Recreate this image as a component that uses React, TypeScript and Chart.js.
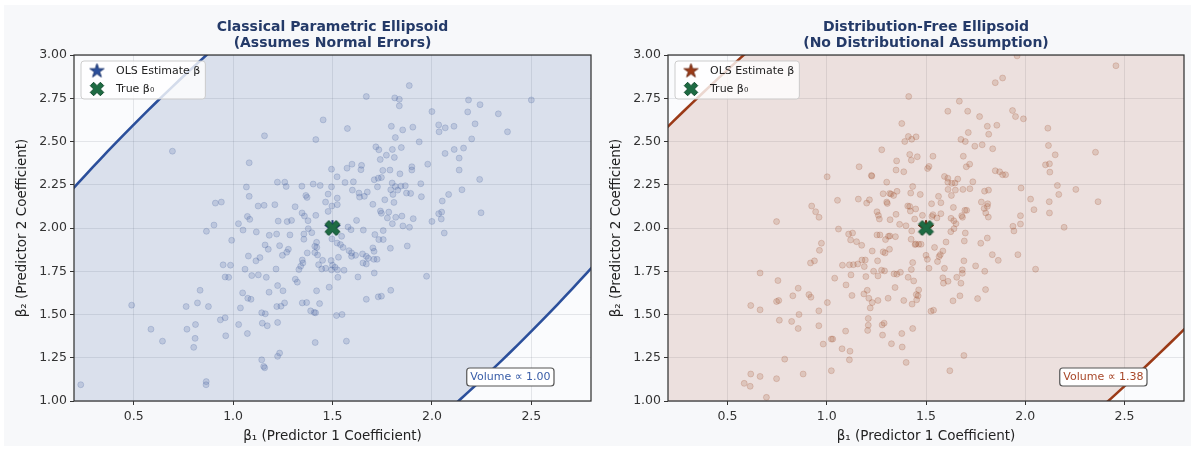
import React, { useEffect, useRef } from 'react';
import { Chart, registerables } from 'chart.js';

Chart.register(...registerables);

const FONT = '"DejaVu Sans", "Liberation Sans", sans-serif';

// ---- axes ----
const xTickValues = [0.5, 1.0, 1.5, 2.0, 2.5];
const yTickValues = [1.0, 1.25, 1.5, 1.75, 2.0, 2.25, 2.5, 2.75, 3.0];
const xLimits = [0.2, 2.8];
const yLimits = [1.0, 3.0];

// ---- text ----
const parametricTitle = ['Classical Parametric Ellipsoid', '(Assumes Normal Errors)'];
const freeTitle = ['Distribution-Free Ellipsoid', '(No Distributional Assumption)'];
const xAxisTitle = 'β₁ (Predictor 1 Coefficient)';
const yAxisTitle = 'β₂ (Predictor 2 Coefficient)';
const legendLabels = ['OLS Estimate β', 'True β₀'];
const volumeLabels = ['Volume ∝ 1.00', 'Volume ∝ 1.38'];

// ---- estimates ----
const olsEstimate = [1.5, 2.0];
const trueBeta = [1.5, 2.0];

// ---- ellipsoids: center, semi-axes (major, minor), angle of major axis (deg, data units) ----
const ellipseCenter = [1.5, 2.0];
const parametricAxes = [3.5, 1.145];
const parametricAngle = [47.98];
const freeAxes = [4.1, 1.355];
const freeAngle = [46.4];

// ---- sample estimates, classical panel ----
const parametricX = [
  1.453, 1.158, 1.416, 0.695, 1.081, 1.495, 1.523, 1.223, 1.26, 1.267, 1.346, 1.403, 1.438, 1.495, 1.067, 1.081,
  1.366, 1.372, 1.478, 1.465, 1.497, 1.524, 0.911, 0.941, 1.126, 1.156, 1.21, 1.312, 1.347, 1.416, 1.072, 1.084,
  1.227, 1.272, 1.294, 1.359, 1.377, 1.478, 0.904, 1.027, 1.524,
  1.886, 1.67, 1.813, 1.836, 1.836, 2.184, 2.242, 2.5, 2.0, 2.18, 2.334, 1.575, 1.796, 1.853, 1.904, 2.034, 2.036,
  2.067, 2.111, 2.217, 2.38, 1.816, 1.936, 2.2, 1.718, 1.733, 1.801, 1.846, 1.771, 1.811, 1.74, 2.066, 2.112, 2.159,
  2.137, 1.979, 1.598, 1.646, 1.573, 1.643, 1.753, 1.789, 1.899, 1.899, 1.839, 2.137, 1.71, 1.73, 1.746, 1.563,
  1.605, 1.726, 1.8, 1.793, 1.816, 1.844, 1.866, 1.804, 1.828, 1.872, 1.893, 1.944, 1.947, 2.24, 2.151, 2.084,
  2.052, 1.6, 1.633, 1.675, 1.636, 1.66, 1.703, 1.763, 1.809, 1.741, 1.783, 1.746, 1.849, 1.818, 1.776, 1.906,
  1.801, 1.854, 1.887, 1.621, 2.0, 2.034, 2.049, 2.047, 2.247, 1.578,
  0.866, 1.05, 0.993, 1.117, 1.182, 1.219, 1.286, 1.356, 1.356, 1.378, 1.396, 1.42, 1.411, 1.421, 1.161, 1.177,
  1.234, 1.278, 1.27, 1.248, 1.373, 1.411, 1.425, 1.077, 1.135, 1.115, 1.348, 1.351, 1.45, 1.43, 1.466, 1.495,
  1.34, 1.331, 1.446, 0.95, 0.987, 1.06, 1.216, 0.96, 0.978, 1.094, 1.127, 1.167, 1.313, 1.323, 1.224, 1.251,
  1.181, 1.048, 1.42, 1.483, 0.834, 0.821, 0.764, 0.876, 0.49, 1.074, 1.09, 1.037, 1.22, 1.241, 1.259, 1.348,
  1.37, 1.435, 1.39, 1.408, 1.415, 1.144, 1.162, 1.52, 0.936, 0.96, 1.147, 1.172, 1.224, 1.028, 1.072, 0.963,
  0.811, 0.587, 0.768, 0.809, 0.645, 0.802, 1.413, 1.144, 1.154, 1.159, 1.224, 1.234, 0.234, 0.865, 0.864,
  1.593, 1.655, 1.713, 1.733, 1.755, 1.755, 2.062, 1.497, 1.523, 1.54, 1.553, 1.546, 1.583, 1.596, 1.616, 1.596,
  1.651, 1.67, 1.68, 1.703, 1.709, 1.708, 1.724, 1.653, 1.67, 1.791, 1.876, 1.53, 1.493, 1.5, 1.513, 1.525,
  1.558, 1.527, 1.628, 1.71, 1.973, 1.793, 1.67, 1.73, 1.746, 1.548, 1.57,
];
const parametricY = [
  2.625, 2.533, 2.511, 2.444, 2.377, 2.34, 2.296, 2.265, 2.265, 2.24, 2.242, 2.254, 2.246, 2.238, 2.237, 2.183,
  2.188, 2.177, 2.196, 2.15, 2.127, 2.135, 2.144, 2.15, 2.127, 2.131, 2.135, 2.123, 2.087, 2.073, 2.067, 2.05,
  2.04, 2.037, 2.044, 2.069, 2.042, 2.096, 2.017, 2.025, 2.173,
  2.823, 2.76, 2.752, 2.744, 2.706, 2.74, 2.713, 2.74, 2.673, 2.671, 2.66, 2.575, 2.588, 2.567, 2.583, 2.596, 2.556,
  2.579, 2.588, 2.602, 2.556, 2.523, 2.498, 2.515, 2.469, 2.452, 2.454, 2.465, 2.421, 2.408, 2.396, 2.431, 2.454, 2.462,
  2.404, 2.369, 2.369, 2.362, 2.346, 2.337, 2.333, 2.335, 2.354, 2.335, 2.313, 2.335, 2.279, 2.288, 2.292, 2.263,
  2.267, 2.238, 2.26, 2.221, 2.24, 2.242, 2.244, 2.194, 2.219, 2.202, 2.2, 2.256, 2.181, 2.281, 2.221, 2.194,
  2.156, 2.219, 2.202, 2.208, 2.179, 2.183, 2.137, 2.163, 2.148, 2.098, 2.092, 2.085, 2.069, 2.062, 2.058, 2.054,
  2.025, 2.012, 2.004, 2.044, 2.038, 2.083, 2.092, 2.052, 2.088, 2.006,
  1.981, 1.988, 1.929, 1.977, 1.958, 1.965, 1.96, 1.965, 1.935, 1.996, 1.973, 1.917, 1.894, 1.888, 1.902, 1.877,
  1.898, 1.877, 1.86, 1.842, 1.856, 1.858, 1.844, 1.838, 1.829, 1.81, 1.815, 1.798, 1.813, 1.788, 1.767, 1.758,
  1.779, 1.76, 1.763, 1.787, 1.785, 1.762, 1.763, 1.717, 1.715, 1.725, 1.729, 1.715, 1.704, 1.687, 1.667, 1.637,
  1.629, 1.625, 1.637, 1.658, 1.64, 1.567, 1.546, 1.546, 1.554, 1.594, 1.588, 1.538, 1.546, 1.548, 1.567, 1.567,
  1.569, 1.563, 1.521, 1.512, 1.51, 1.51, 1.504, 1.494, 1.469, 1.481, 1.45, 1.435, 1.454, 1.442, 1.39, 1.377,
  1.442, 1.415, 1.415, 1.362, 1.346, 1.31, 1.338, 1.238, 1.2, 1.192, 1.258, 1.277, 1.094, 1.112, 1.094,
  1.99, 1.988, 1.962, 1.933, 1.933, 1.985, 1.971, 1.937, 1.913, 1.904, 1.888, 1.952, 1.869, 1.856, 1.842, 1.836,
  1.85, 1.836, 1.825, 1.885, 1.865, 1.819, 1.819, 1.798, 1.792, 1.883, 1.896, 1.831, 1.812, 1.785, 1.773, 1.758,
  1.756, 1.715, 1.717, 1.74, 1.721, 1.64, 1.588, 1.602, 1.606, 1.5, 1.346,
];

// ---- sample estimates, distribution-free panel ----
const freeX = [
  1.413, 1.378, 1.393, 1.411, 1.428, 1.45, 1.277, 1.418, 1.456, 1.426, 1.352, 1.163, 1.225, 1.227, 1.002, 1.349,
  1.388, 1.515, 1.508, 1.302, 1.433, 1.284, 1.317, 1.324, 1.337, 1.354, 1.423, 1.471, 1.159, 1.215, 1.201, 1.054,
  1.302, 1.305, 1.408, 1.418, 1.421, 1.448, 1.482, 0.924, 0.944, 0.961, 1.253, 1.26, 1.265, 1.349, 1.319, 1.367,
  1.399, 1.443, 0.747, 1.059, 1.53,
  1.959, 2.457, 1.886, 1.849, 1.668, 1.61, 1.71, 1.77, 1.936, 1.951, 1.991, 1.809, 1.857, 1.816, 1.713, 1.676,
  1.698, 1.746, 1.783, 1.836, 2.114, 2.117, 2.151, 2.354, 1.535, 1.688, 1.72, 1.703, 1.849, 1.871, 1.886, 1.901,
  2.102, 2.122, 2.124, 1.593, 1.61, 1.66, 1.61, 1.63, 1.646, 1.736, 1.611, 1.648, 1.686, 1.721, 1.795, 1.815,
  1.628, 1.563, 1.979, 2.162, 2.169, 2.255, 2.027, 2.121, 2.367, 1.528, 1.575, 1.638, 1.779, 1.811, 1.809, 1.793,
  1.696, 1.705, 2.044, 2.122, 1.801, 1.814, 1.68, 1.684, 1.976, 1.535, 1.575, 1.626, 1.64, 1.651, 1.938, 1.976,
  2.196, 1.555,
  1.11, 1.13, 1.12, 1.15, 1.176, 1.253, 1.268, 1.296, 1.311, 1.318, 1.346, 1.428, 1.425, 1.448, 1.463, 1.475,
  1.445, 1.229, 1.284, 1.294, 1.316, 0.973, 0.963, 0.918, 0.938, 1.079, 1.114, 1.134, 1.156, 1.177, 1.194, 1.189,
  1.256, 1.04, 1.122, 1.197, 1.236, 1.258, 1.276, 1.291, 1.339, 1.353, 1.371, 1.41, 1.438, 1.426, 1.433, 1.5,
  1.507, 1.515, 0.664, 0.754, 1.097, 1.127, 1.187, 1.204, 1.212, 1.229, 1.258, 1.219, 1.309, 1.344, 1.388, 1.43,
  1.453, 1.46, 1.463, 1.451, 0.856, 0.829, 0.91, 0.92, 0.747, 0.758, 0.617, 0.664, 1.003, 0.96, 0.86, 0.761,
  0.823, 0.856, 0.96, 1.209, 1.209, 1.206, 1.279, 1.289, 1.095, 1.433, 1.378, 1.281, 1.023, 1.03, 0.982, 1.077,
  1.117, 1.326, 1.38, 1.525, 0.788, 1.114, 1.4, 0.617, 0.664, 0.747, 0.881, 1.023, 0.584, 0.614, 0.696,
  1.641, 1.625, 1.698, 1.943, 1.809, 1.776, 1.693, 1.601, 1.543, 1.585, 1.572, 1.566, 1.558, 1.593, 1.691, 1.75,
  1.834, 1.864, 1.963, 1.683, 1.683, 1.796, 1.655, 1.585, 1.611, 1.588, 1.676, 1.8, 1.671, 1.636, 1.76, 2.052,
  1.538, 1.691, 1.62,
];
const freeY = [
  2.76, 2.604, 2.5, 2.529, 2.513, 2.527, 2.452, 2.425, 2.412, 2.392, 2.388, 2.354, 2.304, 2.3, 2.296, 2.335,
  2.325, 2.356, 2.344, 2.265, 2.24, 2.198, 2.2, 2.196, 2.188, 2.212, 2.202, 2.194, 2.167, 2.163, 2.144, 2.16,
  2.15, 2.142, 2.127, 2.125, 2.098, 2.11, 2.073, 2.127, 2.094, 2.062, 2.094, 2.073, 2.052, 2.079, 2.048, 2.021,
  2.013, 2.052, 2.037, 1.994, 2.067,
  2.995, 2.938, 2.867, 2.84, 2.733, 2.675, 2.675, 2.644, 2.679, 2.644, 2.631, 2.588, 2.594, 2.542, 2.552, 2.512,
  2.5, 2.473, 2.481, 2.458, 2.577, 2.477, 2.423, 2.438, 2.415, 2.415, 2.369, 2.354, 2.331, 2.325, 2.308, 2.308,
  2.365, 2.371, 2.323, 2.298, 2.288, 2.283, 2.265, 2.258, 2.26, 2.267, 2.223, 2.219, 2.223, 2.227, 2.213, 2.219,
  2.188, 2.183, 2.231, 2.246, 2.194, 2.223, 2.167, 2.152, 2.152, 2.14, 2.146, 2.119, 2.15, 2.14, 2.125, 2.113,
  2.102, 2.102, 2.106, 2.087, 2.087, 2.063, 2.071, 2.062, 2.071, 2.077, 2.083, 2.056, 2.042, 2.025, 2.01, 2.023,
  2.004, 2.058,
  1.965, 1.971, 1.931, 1.921, 1.9, 1.96, 1.96, 1.933, 1.952, 1.954, 1.95, 1.983, 1.935, 1.908, 1.906, 1.906,
  1.904, 1.867, 1.862, 1.856, 1.877, 1.912, 1.871, 1.798, 1.81, 1.785, 1.787, 1.788, 1.792, 1.815, 1.815, 1.777,
  1.81, 1.71, 1.729, 1.719, 1.75, 1.723, 1.756, 1.752, 1.735, 1.733, 1.744, 1.715, 1.694, 1.76, 1.8, 1.842,
  1.819, 1.767, 1.74, 1.696, 1.671, 1.61, 1.619, 1.64, 1.594, 1.569, 1.581, 1.538, 1.594, 1.656, 1.581, 1.56,
  1.585, 1.608, 1.642, 1.615, 1.652, 1.608, 1.615, 1.6, 1.575, 1.581, 1.552, 1.527, 1.569, 1.521, 1.5, 1.467,
  1.46, 1.419, 1.435, 1.477, 1.438, 1.408, 1.44, 1.45, 1.404, 1.419, 1.39, 1.381, 1.358, 1.358, 1.329, 1.302,
  1.288, 1.331, 1.312, 1.519, 1.242, 1.238, 1.223, 1.156, 1.142, 1.129, 1.156, 1.175, 1.102, 1.085, 1.021,
  1.996, 1.979, 1.971, 1.983, 1.942, 1.912, 1.925, 1.919, 1.888, 1.867, 1.846, 1.835, 1.806, 1.767, 1.81, 1.781,
  1.846, 1.813, 1.846, 1.758, 1.738, 1.75, 1.715, 1.712, 1.692, 1.681, 1.681, 1.644, 1.608, 1.579, 1.592, 1.762,
  1.525, 1.263, 1.175,
];

// ---- marker images ----
function makeStar(fill: string, edge: string, R: number): HTMLCanvasElement {
  const c = document.createElement('canvas');
  const s = Math.ceil(R * 2 + 4);
  c.width = s; c.height = s;
  const g = c.getContext('2d')!;
  const r = R * 0.381966;
  g.beginPath();
  for (let k = 0; k < 10; k++) {
    const ang = -Math.PI / 2 + (k * Math.PI) / 5;
    const rr = k % 2 === 0 ? R : r;
    const px = s / 2 + rr * Math.cos(ang);
    const py = s / 2 + rr * Math.sin(ang);
    if (k === 0) g.moveTo(px, py); else g.lineTo(px, py);
  }
  g.closePath();
  g.fillStyle = fill; g.fill();
  g.lineWidth = 1; g.strokeStyle = edge; g.stroke();
  return c;
}

function makeX(fill: string, edge: string, size: number): HTMLCanvasElement {
  const c = document.createElement('canvas');
  const s = Math.ceil(size + 4);
  c.width = s; c.height = s;
  const g = c.getContext('2d')!;
  const v = [[-0.25, -0.5], [0, -0.25], [0.25, -0.5], [0.5, -0.25], [0.25, 0], [0.5, 0.25], [0.25, 0.5], [0, 0.25],
    [-0.25, 0.5], [-0.5, 0.25], [-0.25, 0], [-0.5, -0.25]];
  g.beginPath();
  v.forEach(([a, b], i) => {
    const px = s / 2 + a * size; const py = s / 2 + b * size;
    if (i === 0) g.moveTo(px, py); else g.lineTo(px, py);
  });
  g.closePath();
  g.fillStyle = fill; g.fill();
  g.lineWidth = 1; g.strokeStyle = edge; g.stroke();
  return c;
}

function ellipsePoints(center: number[], axes: number[], angleDeg: number) {
  const th = (angleDeg * Math.PI) / 180;
  const pts: { x: number; y: number }[] = [];
  for (let k = 0; k <= 360; k++) {
    const t = (k * Math.PI) / 180;
    const u = axes[0] * Math.cos(t);
    const w = axes[1] * Math.sin(t);
    pts.push({ x: center[0] + u * Math.cos(th) - w * Math.sin(th), y: center[1] + u * Math.sin(th) + w * Math.cos(th) });
  }
  return pts;
}

type PanelSpec = {
  title: string[];
  xs: number[];
  ys: number[];
  axes: number[];
  angle: number;
  lineColor: string;
  fillColor: string;
  pointFill: string;
  pointEdge: string;
  starFill: string;
  starEdge: string;
  volume: string;
  volumeColor: string;
  padRight: number;
};

const titleColor = '#243a68';
const tickColor = '#333333';

function buildChart(canvas: HTMLCanvasElement, p: PanelSpec) {
  const star = makeStar(p.starFill, p.starEdge, 8);
  const ex = makeX('#1e6b43', '#134d2f', 15);
  const legendStar = makeStar(p.starFill, p.starEdge, 7.4);
  const legendX = makeX('#1e6b43', '#134d2f', 13.5);

  const decor = {
    id: 'decor',
    beforeDraw(chart: any) {
      const { ctx, chartArea: a } = chart;
      ctx.save();
      ctx.fillStyle = '#fafbfd';
      ctx.fillRect(a.left, a.top, a.right - a.left, a.bottom - a.top);
      ctx.restore();
    },
    afterDatasetsDraw(chart: any) {
      const { ctx, chartArea: a } = chart;
      ctx.save();
      ctx.strokeStyle = '#333333';
      ctx.lineWidth = 1.25;
      ctx.strokeRect(a.left, a.top, a.right - a.left, a.bottom - a.top);
      ctx.restore();
    },
    afterDraw(chart: any) {
      const { ctx, chartArea: a } = chart;
      ctx.save();
      // title
      ctx.fillStyle = titleColor;
      ctx.font = `bold 14px ${FONT}`;
      ctx.textAlign = 'center';
      ctx.textBaseline = 'middle';
      const cx = (a.left + a.right) / 2;
      ctx.fillText(p.title[0], cx, 27);
      ctx.fillText(p.title[1], cx, 43);

      // legend
      ctx.font = `11px ${FONT}`;
      const tw = Math.max(...legendLabels.map((t) => ctx.measureText(t).width));
      const bx = a.left + 7, by = a.top + 6;
      const bw = 35 + tw + 5, bh = 38;
      ctx.beginPath();
      ctx.roundRect(bx, by, bw, bh, 3);
      ctx.fillStyle = 'rgba(255,255,255,0.8)';
      ctx.fill();
      ctx.strokeStyle = 'rgba(200,200,200,0.9)';
      ctx.lineWidth = 1;
      ctx.stroke();
      ctx.drawImage(legendStar, bx + 16 - legendStar.width / 2, by + 10 - legendStar.height / 2);
      ctx.drawImage(legendX, bx + 16 - legendX.width / 2, by + 28 - legendX.height / 2);
      ctx.fillStyle = '#222222';
      ctx.textAlign = 'left';
      ctx.fillText(legendLabels[0], bx + 35, by + 10);
      ctx.fillText(legendLabels[1], bx + 35, by + 28);

      // volume annotation
      ctx.font = `11px ${FONT}`;
      const vw = ctx.measureText(p.volume).width + 7;
      const vh = 18;
      const vx = a.right - 37 - vw, vy = a.bottom - 15 - vh;
      ctx.beginPath();
      ctx.roundRect(vx, vy, vw, vh, 3);
      ctx.fillStyle = '#ffffff';
      ctx.fill();
      ctx.strokeStyle = '#555555';
      ctx.lineWidth = 1.2;
      ctx.stroke();
      ctx.fillStyle = p.volumeColor;
      ctx.textAlign = 'center';
      ctx.fillText(p.volume, vx + vw / 2, vy + vh / 2);
      ctx.restore();
    },
  };

  return new Chart(canvas, {
    type: 'scatter',
    data: {
      datasets: [
        {
          label: 'ellipse',
          data: ellipsePoints(ellipseCenter, p.axes, p.angle),
          showLine: true,
          fill: 'shape',
          backgroundColor: p.fillColor,
          borderColor: p.lineColor,
          borderWidth: 2.6,
          pointRadius: 0,
          tension: 0,
          order: 3,
        },
        {
          label: 'samples',
          data: p.xs.map((x, i) => ({ x, y: p.ys[i] })),
          backgroundColor: p.pointFill,
          borderColor: p.pointEdge,
          borderWidth: 0.8,
          pointRadius: 3,
          order: 2,
        },
        {
          label: legendLabels[0],
          data: [{ x: olsEstimate[0], y: olsEstimate[1] }],
          pointStyle: star,
          pointRadius: 8,
          order: 1,
        },
        {
          label: legendLabels[1],
          data: [{ x: trueBeta[0], y: trueBeta[1] }],
          pointStyle: ex,
          pointRadius: 8,
          order: 0,
        },
      ],
    } as any,
    options: {
      animation: false,
      responsive: false,
      events: [],
      layout: { padding: { left: 0, right: p.padRight, top: 55, bottom: 0 } },
      plugins: { legend: { display: false }, tooltip: { enabled: false }, title: { display: false } },
      scales: {
        x: {
          type: 'linear',
          min: xLimits[0],
          max: xLimits[1],
          afterBuildTicks: (s: any) => { s.ticks = xTickValues.map((v) => ({ value: v })); },
          afterFit: (s: any) => { s.height = 48; },
          ticks: {
            callback: (v: any) => Number(v).toFixed(1),
            font: { family: FONT, size: 12.5 },
            color: tickColor,
            padding: 4,
            maxRotation: 0,
          },
          grid: { color: 'rgba(110,115,130,0.2)', lineWidth: 0.8, tickLength: 4, tickColor: '#333333', tickWidth: 1 },
          border: { display: false },
          title: { display: true, text: xAxisTitle, font: { family: FONT, size: 13.5 }, color: '#222222', padding: { top: 0, bottom: 4 } },
        },
        y: {
          type: 'linear',
          min: yLimits[0],
          max: yLimits[1],
          afterBuildTicks: (s: any) => { s.ticks = yTickValues.map((v) => ({ value: v })); },
          afterFit: (s: any) => { s.width = 74; },
          ticks: {
            callback: (v: any) => Number(v).toFixed(2),
            font: { family: FONT, size: 12.5 },
            color: tickColor,
            padding: 3,
          },
          grid: { color: 'rgba(110,115,130,0.2)', lineWidth: 0.8, tickLength: 4, tickColor: '#333333', tickWidth: 1 },
          border: { display: false },
          title: { display: true, text: yAxisTitle, font: { family: FONT, size: 13.5 }, color: '#222222', padding: { top: 14, bottom: 0 } },
        },
      },
    } as any,
    plugins: [decor],
  });
}

const parametricSpec: PanelSpec = {
  title: parametricTitle,
  xs: parametricX,
  ys: parametricY,
  axes: parametricAxes,
  angle: parametricAngle[0],
  lineColor: '#2b4f9b',
  fillColor: 'rgba(42,72,140,0.15)',
  pointFill: 'rgba(60,90,154,0.18)',
  pointEdge: 'rgba(60,90,154,0.26)',
  starFill: '#2b4f9b',
  starEdge: '#1d3670',
  volume: volumeLabels[0],
  volumeColor: '#3a5ea8',
  padRight: 5,
};

const freeSpec: PanelSpec = {
  title: freeTitle,
  xs: freeX,
  ys: freeY,
  axes: freeAxes,
  angle: freeAngle[0],
  lineColor: '#9b3a17',
  fillColor: 'rgba(160,75,45,0.15)',
  pointFill: 'rgba(160,82,45,0.19)',
  pointEdge: 'rgba(160,82,45,0.27)',
  starFill: '#9b3a17',
  starEdge: '#6e2810',
  volume: volumeLabels[1],
  volumeColor: '#a8482a',
  padRight: 5,
};

function Panel({ left, width, spec }: { left: number; width: number; spec: PanelSpec }) {
  const ref = useRef<HTMLCanvasElement | null>(null);
  useEffect(() => {
    const chart = buildChart(ref.current!, spec);
    return () => chart.destroy();
  }, []);
  return (
    <canvas
      ref={ref}
      width={width}
      height={449}
      style={{ position: 'absolute', left, top: 0, width, height: 449 }}
    />
  );
}

export default function App() {
  return (
    <div style={{ position: 'fixed', left: 0, top: 0, width: 1193, height: 449, background: '#ffffff', overflow: 'hidden' }}>
      <div style={{ position: 'absolute', left: 4, top: 5, width: 1187, height: 441, background: '#f7f8fa' }} />
      <Panel left={0} width={600} spec={parametricSpec} />
      <Panel left={594} width={599} spec={freeSpec} />
    </div>
  );
}
